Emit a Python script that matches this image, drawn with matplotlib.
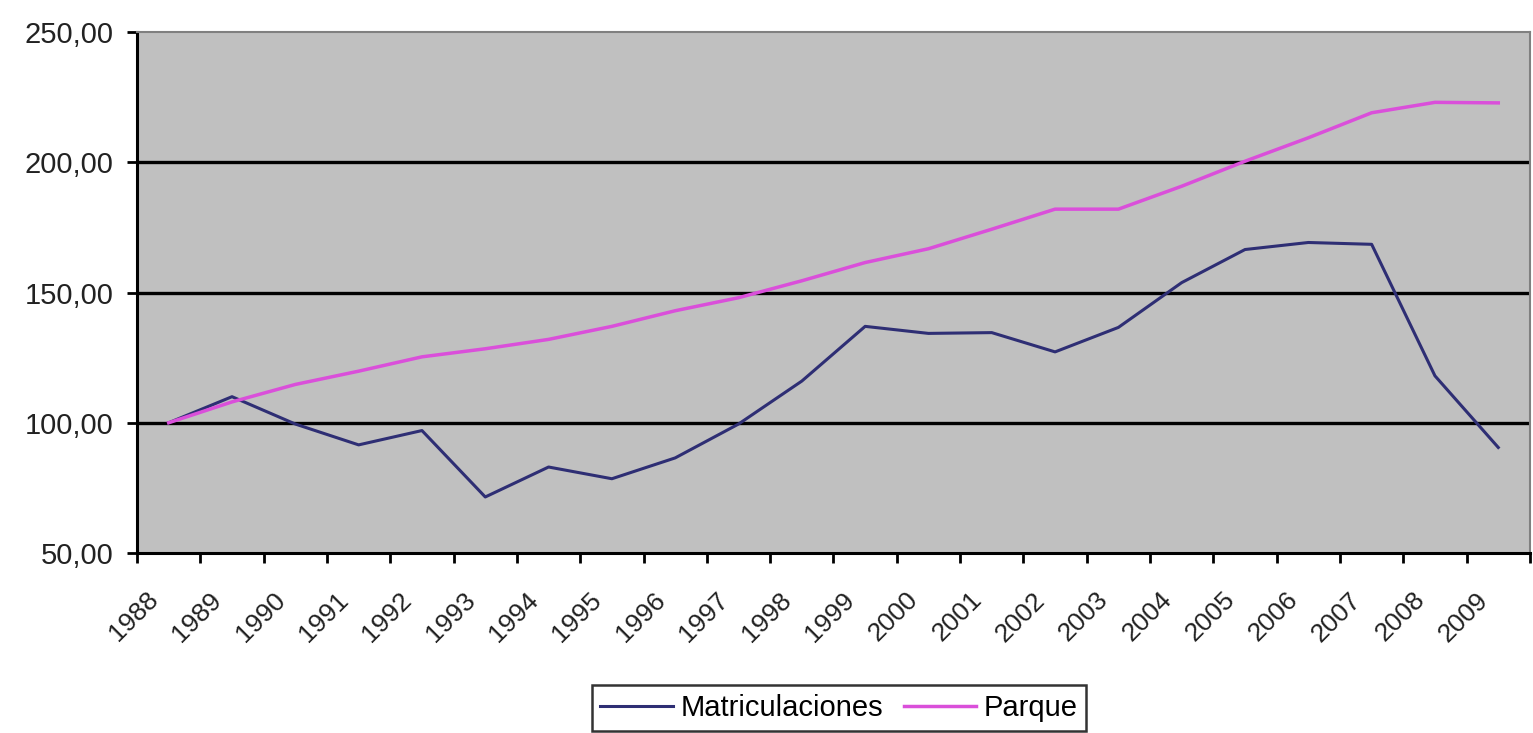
import numpy as np
import matplotlib.pyplot as plt
from matplotlib.ticker import FuncFormatter, MultipleLocator
from matplotlib.transforms import ScaledTranslation

# datos
anios = [str(a) for a in range(1988, 2010)]
matriculaciones = [100.0, 110.0, 99.5, 91.5, 97.0, 71.5, 83.0, 78.5, 86.5, 99.5, 116.0,
                   137.0, 134.3, 134.6, 127.2, 136.6, 153.8, 166.5, 169.2, 168.5, 118.0, 90.5]
parque = [100.0, 108.0, 114.7, 119.8, 125.3, 128.4, 132.0, 137.0, 143.0, 148.0, 154.5,
          161.5, 166.8, 174.3, 182.0, 182.0, 190.8, 200.4, 209.4, 219.0, 223.0, 222.8]

plt.rcParams['font.family'] = ['Liberation Sans', 'DejaVu Sans']

fig = plt.figure(figsize=(15.33, 7.33), dpi=100)
ax = fig.add_axes([0.0894, 0.2456, 0.9086, 0.7107])
ax.set_facecolor('#C0C0C0')

x = np.arange(len(anios))
l1, = ax.plot(x, matriculaciones, color='#2E2E74', lw=2.2, label='Matriculaciones')
l2, = ax.plot(x, parque, color='#DA4FDA', lw=2.5, label='Parque')

ax.set_xlim(-0.5, len(anios) - 0.5)
ax.set_ylim(50, 250)
ax.yaxis.set_major_locator(MultipleLocator(50))
ax.yaxis.set_major_formatter(FuncFormatter(lambda v, p: ('%.2f' % v).replace('.', ',')))
for yv in [100, 150, 200]:
    ax.axhline(yv, color='black', lw=2.4, zorder=1)

# ticks entre categorias, etiquetas centradas
ax.set_xticks(x)
ax.set_xticklabels(anios, rotation=45, ha='right', va='center', rotation_mode='anchor')
ax.set_xticks(np.arange(-0.5, len(anios), 1.0), minor=True)
ax.tick_params(axis='x', which='major', length=0, pad=31, labelsize=19, labelcolor='#222222')
ax.tick_params(axis='x', which='minor', length=7, width=2, direction='out')
ax.tick_params(axis='y', length=7, width=2, pad=10, labelsize=21, labelcolor='#222222')
desplaz = ScaledTranslation(-14 / 100, 0, fig.dpi_scale_trans)
for t in ax.get_xticklabels():
    t.set_transform(t.get_transform() + desplaz)

for s in ['left', 'bottom']:
    ax.spines[s].set_linewidth(2.2)
    ax.spines[s].set_color('black')
for s in ['top', 'right']:
    ax.spines[s].set_linewidth(1.5)
    ax.spines[s].set_color('#808080')

leg = fig.legend(handles=[l1, l2], loc='center', bbox_to_anchor=(0.5473, 0.034), ncol=2,
                 fontsize=21, frameon=True, fancybox=False, handlelength=2.5,
                 columnspacing=0.7, handletextpad=0.25, borderpad=0.3, borderaxespad=0)
leg.get_frame().set_edgecolor('black')
leg.get_frame().set_linewidth(1.8)

fig.savefig('out.png', dpi=100)
